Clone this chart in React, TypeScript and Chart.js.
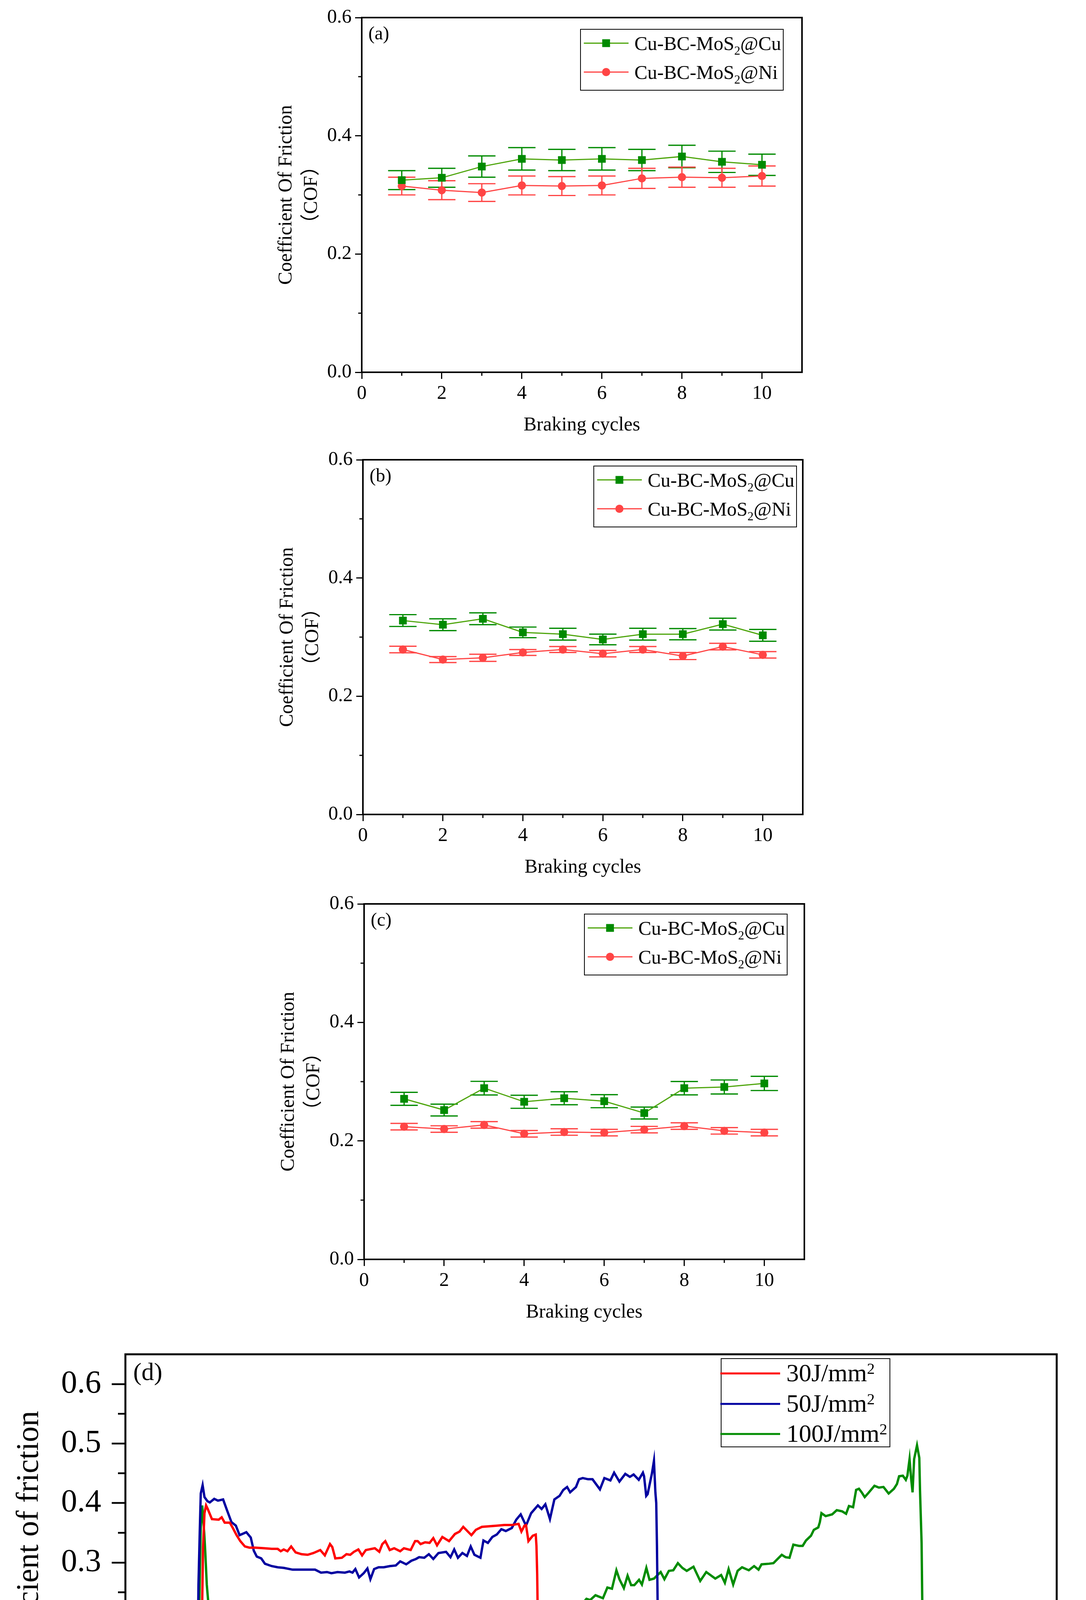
import { useEffect, useRef } from 'react';
import { Chart, registerables } from 'chart.js';

Chart.register(...registerables);

const SERIF = "'Liberation Serif', 'Times New Roman', 'Noto Sans CJK SC', serif";

type Part = { t: string; s?: 'sub' | 'sup' };

// ---------- panels (a)-(c): COF per braking cycle ----------
const cycles = [1, 2, 3, 4, 5, 6, 7, 8, 9, 10];
const cycleTicks = [0, 2, 4, 6, 8, 10];
const cycleMinorTicks = [1, 3, 5, 7, 9];
const cofTicks = [0, 0.2, 0.4, 0.6];
const cofMinorTicks = [0.1, 0.3, 0.5];

const cuA = [0.325, 0.329, 0.348, 0.361, 0.359, 0.361, 0.359, 0.365, 0.356, 0.351];
const cuAErr = [0.016, 0.016, 0.018, 0.019, 0.018, 0.019, 0.018, 0.019, 0.018, 0.018];
const niA = [0.315, 0.308, 0.304, 0.316, 0.315, 0.316, 0.328, 0.33, 0.329, 0.332];
const niAErr = [0.015, 0.016, 0.015, 0.016, 0.016, 0.016, 0.017, 0.017, 0.016, 0.017];

const cuB = [0.328, 0.321, 0.331, 0.308, 0.305, 0.296, 0.305, 0.305, 0.322, 0.303];
const cuBErr = [0.01, 0.01, 0.01, 0.009, 0.01, 0.009, 0.01, 0.0095, 0.01, 0.01];
const niB = [0.279, 0.262, 0.265, 0.274, 0.279, 0.272, 0.279, 0.268, 0.284, 0.27];
const niBErr = [0.0055, 0.005, 0.006, 0.005, 0.005, 0.0055, 0.005, 0.006, 0.0055, 0.0055];

const cuC = [0.271, 0.252, 0.289, 0.266, 0.272, 0.267, 0.247, 0.289, 0.291, 0.297];
const cuCErr = [0.011, 0.01, 0.0115, 0.011, 0.011, 0.011, 0.01, 0.0113, 0.0118, 0.012];
const niC = [0.224, 0.22, 0.227, 0.212, 0.215, 0.214, 0.219, 0.225, 0.217, 0.214];
const niCErr = [0.0055, 0.0055, 0.0055, 0.0055, 0.0055, 0.0055, 0.0055, 0.0055, 0.0055, 0.0055];

const cuLabel: Part[] = [{ t: 'Cu-BC-MoS' }, { t: '2', s: 'sub' }, { t: '@Cu' }];
const niLabel: Part[] = [{ t: 'Cu-BC-MoS' }, { t: '2', s: 'sub' }, { t: '@Ni' }];

// ---------- panel (d): COF vs braking time ----------
const timeTicks = [0, 10, 20, 30, 40, 50, 60];
const timeMinorTicks = [-5, 5, 15, 25, 35, 45, 55];
const frictionTicks = [0, 0.1, 0.2, 0.3, 0.4, 0.5, 0.6];
const frictionMinorTicks = [0.05, 0.15, 0.25, 0.35, 0.45, 0.55];

const time30 = [
  0.08, 0.2, 0.26, 0.31, 0.36, 0.42, 0.52, 0.63, 0.73, 1.04, 1.51, 1.72, 1.93, 2.29, 2.5, 2.76,
  3.02, 3.34, 3.65, 4.07, 4.69, 5.21, 5.63, 5.84, 6.05, 6.31, 6.57, 6.88, 7.3, 7.72, 8.13, 8.6,
  8.92, 9.28, 9.44, 9.65, 10.11, 10.43, 10.69, 10.95, 11.26, 11.52, 11.78, 12.41, 12.72, 12.93,
  13.14, 13.45, 13.76, 14.18, 14.44, 14.91, 15.22, 15.4, 15.6, 15.92, 16.23, 16.49, 16.75, 17.12,
  17.59, 18.0, 18.32, 18.58, 19.15, 19.46, 19.88, 20.4, 20.92, 21.45, 21.97, 22.44, 22.64, 22.85,
  22.96, 23.13, 23.43, 23.64, 23.69, 23.74, 23.82, 23.88, 23.95, 24.08, 24.3,
];
const cof30 = [
  0.0, 0.05, 0.1, 0.155, 0.233, 0.326, 0.383, 0.396, 0.391, 0.373, 0.372, 0.376, 0.367, 0.367, 0.358, 0.346,
  0.336, 0.327, 0.325, 0.325, 0.324, 0.323, 0.323, 0.319, 0.322, 0.319, 0.327, 0.317, 0.314, 0.313, 0.316, 0.321,
  0.312, 0.331, 0.326, 0.307, 0.308, 0.314, 0.313, 0.318, 0.322, 0.312, 0.321, 0.324, 0.318, 0.331,
  0.336, 0.321, 0.324, 0.319, 0.324, 0.321, 0.336, 0.336, 0.331, 0.334, 0.333, 0.341, 0.329, 0.343,
  0.336, 0.348, 0.352, 0.36, 0.346, 0.355, 0.36, 0.361, 0.362, 0.363, 0.363, 0.365, 0.352, 0.362,
  0.363, 0.336, 0.345, 0.347, 0.328, 0.281, 0.138, 0.09, 0.05, 0.02, 0.0,
];

const time50 = [
  0.0, 0.03, 0.05, 0.1, 0.19, 0.26, 0.39, 0.52, 0.73, 0.89, 1.2, 1.46, 1.82, 2.09, 2.4, 2.71, 2.97,
  3.44, 3.75, 3.96, 4.17, 4.48, 4.74, 5.21, 5.63, 6.05, 6.67, 7.3, 7.92, 8.24, 8.65, 9.07, 9.38,
  9.8, 10.32, 10.64, 10.85, 11.05, 11.31, 11.63, 11.89, 12.1, 12.36, 12.67, 13.03, 13.45, 13.87,
  14.18, 14.6, 14.96, 15.28, 15.5, 15.86, 16.18, 16.49, 16.85, 17.38, 17.69, 17.95, 18.21, 18.52,
  18.84, 19.1, 19.36, 19.78, 19.99, 20.3, 20.61, 20.92, 21.24, 21.55, 21.97, 22.28, 22.59, 22.96,
  23.32, 23.79, 24.05, 24.31, 24.63, 24.94, 25.3, 25.56, 25.83, 26.04, 26.45, 26.66, 26.92, 27.29,
  27.6, 28.12, 28.43, 28.85, 29.11, 29.48, 29.89, 30.21, 30.47, 30.83, 31.12, 31.2, 31.35, 31.45,
  31.63, 31.75, 31.89, 31.99, 32.05, 32.1, 32.15, 32.2, 32.28, 32.5, 32.95,
];
const cof50 = [
  0.0, 0.08, 0.16, 0.263, 0.352, 0.416, 0.43, 0.41, 0.403, 0.401, 0.407, 0.404, 0.406, 0.388, 0.368, 0.362, 0.346,
  0.351, 0.342, 0.32, 0.31, 0.307, 0.298, 0.294, 0.292, 0.291, 0.288, 0.288, 0.288, 0.288, 0.283, 0.284, 0.282,
  0.284, 0.283, 0.285, 0.283, 0.289, 0.275, 0.282, 0.29, 0.272, 0.289, 0.292, 0.292, 0.294, 0.295,
  0.302, 0.297, 0.303, 0.306, 0.309, 0.308, 0.314, 0.306, 0.316, 0.318, 0.309, 0.322, 0.308, 0.316,
  0.311, 0.327, 0.313, 0.308, 0.337, 0.333, 0.343, 0.347, 0.356, 0.353, 0.358, 0.372, 0.381, 0.362,
  0.383, 0.396, 0.39, 0.398, 0.373, 0.406, 0.412, 0.422, 0.427, 0.418, 0.427, 0.44, 0.442, 0.44,
  0.44, 0.423, 0.442, 0.438, 0.451, 0.436, 0.449, 0.444, 0.448, 0.439, 0.451, 0.445, 0.412, 0.415,
  0.436, 0.45, 0.471, 0.418, 0.4, 0.328, 0.225, 0.14, 0.06, 0.017, 0.0,
];

const time100 = [
  0.0, 0.05, 0.16, 0.26, 0.36, 0.5, 0.57, 0.68, 0.83, 0.99, 1.2, 1.46, 1.88, 2.29, 2.61, 2.92, 3.34,
  4.07, 4.74, 5.21, 5.84, 6.57, 7.09, 7.4, 7.92, 8.34, 8.76, 9.28, 9.8, 10.38, 10.85, 11.26, 11.68,
  12.41, 12.93, 13.24, 13.66, 14.13, 14.39, 14.8, 15.33, 15.6, 16.02, 16.33, 16.59, 16.91, 17.27,
  17.69, 18.0, 18.26, 18.52, 18.79, 19.05, 19.46, 19.83, 20.19, 20.51, 20.82, 21.03, 21.45, 21.86,
  22.28, 22.59, 22.8, 23.11, 23.43, 23.84, 24.26, 24.68, 24.94, 25.25, 25.62, 25.93, 26.24, 26.5,
  26.87, 27.18, 27.44, 27.81, 28.33, 28.64, 28.96, 29.27, 29.48, 29.79, 30.05, 30.3, 30.52, 30.85,
  31.05, 31.36, 31.58, 31.89, 32.36, 32.62, 32.93, 33.24, 33.56, 33.87, 34.18, 34.65, 35.12, 35.54,
  36.17, 36.58, 36.84, 37.1, 37.42, 37.73, 38.04, 38.51, 38.88, 39.19, 39.4, 39.92, 40.23, 40.44,
  40.81, 41.07, 41.35, 41.62, 42.01, 42.27, 42.5, 42.85, 43.05, 43.36, 43.47, 43.58, 43.87, 44.33,
  44.65, 45.03, 45.3, 45.5, 45.79, 46.0, 46.2, 46.39, 46.6, 46.86, 47.28, 47.59, 47.91, 48.27, 48.64,
  48.85, 49.0, 49.26, 49.47, 49.58, 49.73, 49.84, 49.94, 50.05, 50.25, 50.41, 50.46, 50.57, 50.62,
  50.7, 50.76, 50.9, 51.1, 51.2,
];
const cof100 = [
  0.0, 0.1, 0.23, 0.36, 0.396, 0.35, 0.32, 0.263, 0.22, 0.195, 0.17, 0.165, 0.158, 0.155, 0.148, 0.149, 0.153,
  0.155, 0.155, 0.159, 0.163, 0.166, 0.171, 0.176, 0.18, 0.184, 0.185, 0.196, 0.196, 0.194, 0.199, 0.196, 0.191,
  0.189, 0.186, 0.188, 0.185, 0.185, 0.19, 0.195, 0.199, 0.199, 0.199, 0.205, 0.218, 0.224, 0.218,
  0.214, 0.209, 0.208, 0.223, 0.204, 0.218, 0.19, 0.202, 0.192, 0.212, 0.204, 0.207, 0.2, 0.202,
  0.205, 0.202, 0.207, 0.207, 0.212, 0.21, 0.209, 0.212, 0.209, 0.219, 0.207, 0.209, 0.215, 0.225,
  0.23, 0.239, 0.237, 0.245, 0.24, 0.258, 0.256, 0.287, 0.272, 0.257, 0.278, 0.262, 0.262, 0.271,
  0.263, 0.291, 0.271, 0.273, 0.284, 0.272, 0.286, 0.287, 0.299, 0.291, 0.286, 0.293, 0.269, 0.284,
  0.273, 0.279, 0.266, 0.289, 0.263, 0.286, 0.292, 0.287, 0.294, 0.288, 0.297, 0.298, 0.299, 0.304,
  0.313, 0.309, 0.308, 0.33, 0.328, 0.328, 0.337, 0.345, 0.355, 0.359, 0.368, 0.383, 0.378, 0.381,
  0.388, 0.386, 0.382, 0.395, 0.393, 0.422, 0.424, 0.418, 0.41, 0.417, 0.429, 0.426, 0.427, 0.416, 0.424,
  0.432, 0.445, 0.446, 0.439, 0.446, 0.474, 0.441, 0.418, 0.474, 0.497, 0.476, 0.421, 0.333, 0.228,
  0.136, 0.1, 0.051, 0.009, 0.0,
];

const energyLabels: Part[][] = [
  [{ t: '30J/mm' }, { t: '2', s: 'sup' }],
  [{ t: '50J/mm' }, { t: '2', s: 'sup' }],
  [{ t: '100J/mm' }, { t: '2', s: 'sup' }],
];

const GREEN_LINE = '#4ea50c';
const GREEN_MARK = '#008a00';
const RED = '#ff4545';
const D_RED = '#ff0000';
const D_BLUE = '#0000a0';
const D_GREEN = '#008c00';

type LegendRow = { parts: Part[]; line: string; marker?: 'rect' | 'circle'; markColor?: string };
type Decor = {
  frame: number;
  xMinor: number[];
  yMinor: number[];
  minorX: number;
  minorY: number;
  tickW: number;
  letter: string;
  letterDx: number;
  letterDy: number;
  letterSize: number;
  errHalf?: number;
  errW?: number;
  legend: {
    right: number; top: number; w: number; h: number;
    x0: number; x1: number; mark: number; textX: number; rowY: number[];
    size: number; base: number; lineW: number; rows: LegendRow[];
  };
};

function drawParts(ctx: CanvasRenderingContext2D, parts: Part[], x: number, y: number, size: number) {
  let cx = x;
  for (const p of parts) {
    const fs = p.s ? Math.round(size * 0.62) : size;
    ctx.font = `${fs}px ${SERIF}`;
    const dy = p.s === 'sub' ? size * 0.24 : p.s === 'sup' ? -size * 0.3 : 0;
    ctx.fillText(p.t, cx, y + dy);
    cx += ctx.measureText(p.t).width;
  }
}

function makeDecor(d: Decor) {
  return {
    id: 'decor',
    beforeDatasetsDraw(chart: any) {
      if (!d.errHalf) return;
      const { ctx } = chart;
      const xs = chart.scales.x;
      const ys = chart.scales.y;
      chart.data.datasets.forEach((ds: any) => {
        if (!ds.errorBars) return;
        ctx.save();
        ctx.strokeStyle = ds.pointBackgroundColor;
        ctx.lineWidth = d.errW;
        ds.data.forEach((p: any, i: number) => {
          const px = xs.getPixelForValue(p.x);
          const top = ys.getPixelForValue(p.y + ds.errorBars[i]);
          const bot = ys.getPixelForValue(p.y - ds.errorBars[i]);
          ctx.beginPath();
          ctx.moveTo(px, top);
          ctx.lineTo(px, bot);
          ctx.moveTo(px - d.errHalf!, top);
          ctx.lineTo(px + d.errHalf!, top);
          ctx.moveTo(px - d.errHalf!, bot);
          ctx.lineTo(px + d.errHalf!, bot);
          ctx.stroke();
        });
        ctx.restore();
      });
    },
    afterDraw(chart: any) {
      const { ctx, chartArea: a } = chart;
      const xs = chart.scales.x;
      const ys = chart.scales.y;
      ctx.save();
      // frame
      ctx.strokeStyle = '#000';
      ctx.lineWidth = d.frame;
      ctx.strokeRect(a.left, a.top, a.right - a.left, a.bottom - a.top);
      // minor ticks
      ctx.lineWidth = d.tickW;
      ctx.beginPath();
      d.xMinor.forEach((v) => {
        const px = xs.getPixelForValue(v);
        ctx.moveTo(px, a.bottom);
        ctx.lineTo(px, a.bottom + d.minorX);
      });
      d.yMinor.forEach((v) => {
        const py = ys.getPixelForValue(v);
        ctx.moveTo(a.left, py);
        ctx.lineTo(a.left - d.minorY, py);
      });
      ctx.stroke();
      // panel letter
      ctx.fillStyle = '#000';
      ctx.textBaseline = 'middle';
      ctx.textAlign = 'left';
      ctx.font = `${d.letterSize}px ${SERIF}`;
      ctx.fillText(d.letter, a.left + d.letterDx, a.top + d.letterDy);
      // legend
      const L = d.legend;
      const bx = a.right - L.right - L.w;
      const by = a.top + L.top;
      ctx.fillStyle = '#fff';
      ctx.fillRect(bx, by, L.w, L.h);
      ctx.lineWidth = 2;
      ctx.strokeStyle = '#000';
      ctx.strokeRect(bx, by, L.w, L.h);
      ctx.textBaseline = 'alphabetic';
      L.rows.forEach((r, i) => {
        const cy = by + L.rowY[i];
        ctx.strokeStyle = r.line;
        ctx.lineWidth = L.lineW;
        ctx.beginPath();
        ctx.moveTo(bx + L.x0, cy);
        ctx.lineTo(bx + L.x1, cy);
        ctx.stroke();
        if (r.marker === 'rect') {
          ctx.fillStyle = r.markColor;
          ctx.fillRect(bx + L.mark - 10, cy - 10, 20, 20);
        } else if (r.marker === 'circle') {
          ctx.fillStyle = r.markColor;
          ctx.beginPath();
          ctx.arc(bx + L.mark, cy, 10.5, 0, Math.PI * 2);
          ctx.fill();
        }
        ctx.fillStyle = '#000';
        drawParts(ctx, r.parts, bx + L.textX, cy + L.base, L.size);
      });
      ctx.restore();
    },
  };
}

type Geo = { left: number; top: number; width: number; height: number };

function ChartBox({ geo, make }: { geo: Geo; make: () => any }) {
  const ref = useRef<HTMLCanvasElement>(null);
  useEffect(() => {
    if (!ref.current) return;
    const chart = new Chart(ref.current, make());
    return () => chart.destroy();
  }, []);
  return (
    <div style={{ position: 'absolute', left: geo.left, top: geo.top, width: geo.width, height: geo.height }}>
      <canvas ref={ref} />
    </div>
  );
}

// plot-area boxes [left, top, right, bottom]
const Y_W = 326;
const PAD_T = 45;
const PAD_R = 147;
const X_H = 190;

function cofGeo(p: number[]): Geo {
  const left = p[0] - Y_W;
  const top = p[1] - PAD_T;
  return { left, top, width: p[2] + PAD_R - left, height: p[3] + X_H - top };
}

function cofConfig(letter: string, cu: number[], cuErr: number[], ni: number[], niErr: number[], lg: { right: number; top: number }) {
  const decor = makeDecor({
    frame: 4, xMinor: cycleMinorTicks, yMinor: cofMinorTicks, minorX: 9, minorY: 9, tickW: 3,
    letter, letterDx: 17, letterDy: 43, letterSize: 48, errHalf: 35, errW: 3.2,
    legend: {
      right: lg.right, top: lg.top, w: 519, h: 156, x0: 8.5, x1: 123, mark: 65.6, textX: 138,
      rowY: [35.5, 109.5], size: 50, base: 17, lineW: 3,
      rows: [
        { parts: cuLabel, line: GREEN_LINE, marker: 'rect', markColor: GREEN_MARK },
        { parts: niLabel, line: RED, marker: 'circle', markColor: RED },
      ],
    },
  });
  const axisFont = { family: SERIF, size: 50, lineHeight: 1.2 };
  return {
    type: 'line',
    data: {
      datasets: [
        {
          label: 'Cu-BC-MoS2@Cu',
          data: cycles.map((c, i) => ({ x: c, y: cu[i] })),
          errorBars: cuErr,
          borderColor: GREEN_LINE,
          borderWidth: 3,
          pointStyle: 'rect',
          pointRadius: 14,
          pointBackgroundColor: GREEN_MARK,
          pointBorderColor: GREEN_MARK,
          pointBorderWidth: 0,
          tension: 0,
        },
        {
          label: 'Cu-BC-MoS2@Ni',
          data: cycles.map((c, i) => ({ x: c, y: ni[i] })),
          errorBars: niErr,
          borderColor: RED,
          borderWidth: 3,
          pointStyle: 'circle',
          pointRadius: 10.5,
          pointBackgroundColor: RED,
          pointBorderColor: RED,
          pointBorderWidth: 0,
          tension: 0,
        },
      ],
    },
    options: {
      responsive: true,
      maintainAspectRatio: false,
      animation: false,
      layout: { padding: { left: 0, top: PAD_T, right: PAD_R, bottom: 0 } },
      plugins: { legend: { display: false }, tooltip: { enabled: false } },
      scales: {
        x: {
          type: 'linear',
          min: 0,
          max: 11,
          afterBuildTicks: (s: any) => { s.ticks = cycleTicks.map((v) => ({ value: v })); },
          afterFit: (s: any) => { s.height = X_H; },
          grid: { drawOnChartArea: false, drawTicks: true, tickLength: 17, tickWidth: 3, tickColor: '#000' },
          border: { display: false },
          ticks: { color: '#000', font: axisFont, padding: 8, maxRotation: 0, autoSkip: false },
          title: { display: true, text: 'Braking cycles', color: '#000', font: axisFont, padding: { top: 0, bottom: 24 } },
        },
        y: {
          min: 0,
          max: 0.6,
          afterBuildTicks: (s: any) => { s.ticks = cofTicks.map((v) => ({ value: v })); },
          afterFit: (s: any) => { s.width = Y_W; },
          grid: { drawOnChartArea: false, drawTicks: true, tickLength: 17, tickWidth: 3, tickColor: '#000' },
          border: { display: false },
          ticks: { color: '#000', font: axisFont, padding: 9, callback: (v: any) => Number(v).toFixed(1) },
          title: {
            display: true,
            text: ['Coefficient Of Friction', '（COF）'],
            color: '#000',
            font: { family: SERIF, size: 50, lineHeight: 1.3 },
            padding: { top: 100, bottom: 0 },
          },
        },
      },
    },
    plugins: [decor],
  };
}

const plotA = [926, 45, 2053, 953];
const plotB = [929, 1177, 2055, 2085];
const plotC = [932, 2314, 2059, 3224];
const plotD = [321, 3467, 2705, 4457];

const D_YW = 321;
const D_PT = 85;
const D_XH = 285;

const geoD: Geo = { left: plotD[0] - D_YW, top: plotD[1] - D_PT, width: 2780, height: plotD[3] + D_XH - (plotD[1] - D_PT) };

function timeConfig() {
  const decor = makeDecor({
    frame: 5, xMinor: timeMinorTicks, yMinor: frictionMinorTicks, minorX: 13, minorY: 19, tickW: 4.5,
    letter: '(d)', letterDx: 20, letterDy: 49, letterSize: 64,
    legend: {
      right: 427, top: 11, w: 432, h: 226, x0: -2, x1: 151, mark: 0, textX: 167,
      rowY: [38, 116, 193], size: 64, base: 20, lineW: 5,
      rows: [
        { parts: energyLabels[0], line: D_RED },
        { parts: energyLabels[1], line: D_BLUE },
        { parts: energyLabels[2], line: D_GREEN },
      ],
    },
  });
  const tickFont = { family: SERIF, size: 82, lineHeight: 1.2 };
  const series = (label: string, t: number[], f: number[], color: string) => ({
    label,
    data: t.map((x, i) => ({ x, y: f[i] })),
    borderColor: color,
    borderWidth: 6,
    pointRadius: 0,
    tension: 0,
  });
  return {
    type: 'line',
    data: {
      datasets: [
        series('30J/mm2', time30, cof30, D_RED),
        series('50J/mm2', time50, cof50, D_BLUE),
        series('100J/mm2', time100, cof100, D_GREEN),
      ],
    },
    options: {
      responsive: true,
      maintainAspectRatio: false,
      animation: false,
      layout: { padding: { left: 0, top: D_PT, right: 2780 - plotD[2], bottom: 0 } },
      plugins: { legend: { display: false }, tooltip: { enabled: false } },
      scales: {
        x: {
          type: 'linear',
          min: -5,
          max: 60,
          afterBuildTicks: (s: any) => { s.ticks = timeTicks.map((v) => ({ value: v })); },
          afterFit: (s: any) => { s.height = D_XH; },
          grid: { drawOnChartArea: false, drawTicks: true, tickLength: 26, tickWidth: 4.5, tickColor: '#000' },
          border: { display: false },
          ticks: { color: '#000', font: tickFont, padding: 6, maxRotation: 0, autoSkip: false },
          title: {
            display: true,
            text: 'Braking Time(s)',
            color: '#000',
            font: { family: SERIF, size: 93, lineHeight: 1.2 },
            padding: { top: 0, bottom: 16 },
          },
        },
        y: {
          min: 0,
          max: 0.65,
          afterBuildTicks: (s: any) => { s.ticks = frictionTicks.map((v) => ({ value: v })); },
          afterFit: (s: any) => { s.width = D_YW; },
          grid: { drawOnChartArea: false, drawTicks: true, tickLength: 35, tickWidth: 4.5, tickColor: '#000' },
          border: { display: false },
          ticks: { color: '#000', font: tickFont, padding: 27, callback: (v: any) => Number(v).toFixed(1) },
          title: {
            display: true,
            text: 'Coefficient of friction',
            color: '#000',
            font: { family: SERIF, size: 80, lineHeight: 1.2 },
            padding: { top: 28, bottom: 0 },
          },
        },
      },
    },
    plugins: [decor],
  };
}

export default function App() {
  return (
    <div style={{ position: 'absolute', left: 0, top: 0, width: 2780, height: 4742, background: '#fff' }}>
      <ChartBox geo={cofGeo(plotA)} make={() => cofConfig('(a)', cuA, cuAErr, niA, niAErr, { right: 48, top: 30 })} />
      <ChartBox geo={cofGeo(plotB)} make={() => cofConfig('(b)', cuB, cuBErr, niB, niBErr, { right: 16, top: 16 })} />
      <ChartBox geo={cofGeo(plotC)} make={() => cofConfig('(c)', cuC, cuCErr, niC, niCErr, { right: 44, top: 26 })} />
      <ChartBox geo={geoD} make={timeConfig} />
    </div>
  );
}
